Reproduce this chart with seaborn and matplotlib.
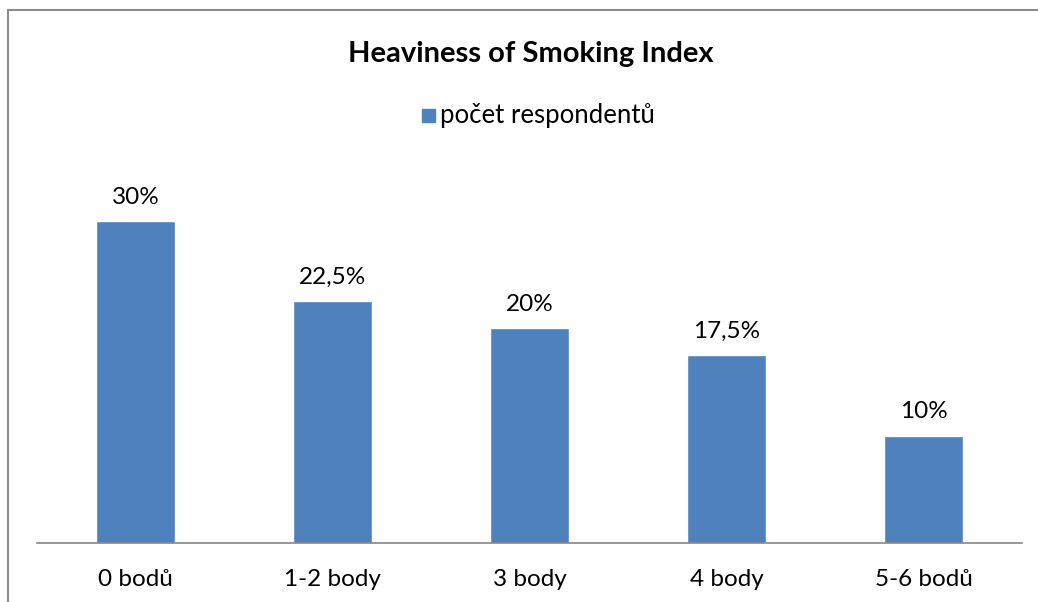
import matplotlib
matplotlib.use("Agg")
import matplotlib.pyplot as plt
import seaborn as sns
import pandas as pd
from matplotlib.lines import Line2D

categories = ["0 bodů", "1-2 body", "3 body", "4 body", "5-6 bodů"]
values = [30, 22.5, 20, 17.5, 10]
value_labels = ["30%", "22,5%", "20%", "17,5%", "10%"]
series_name = "počet respondentů"
title = "Heaviness of Smoking Index"

sns.set_theme(style="white")
plt.rcParams['font.family'] = ['Lato', 'DejaVu Sans']

W, H = 1038, 602
fig = plt.figure(figsize=(W / 100, H / 100), dpi=100)
ax = fig.add_axes([37 / W, (H - 543) / H, 985 / W, 376 / H])

df = pd.DataFrame({"cat": categories, "val": values})
color = "#4F81BD"
sns.barplot(data=df, x="cat", y="val", color=color, width=0.4, ax=ax, saturation=1)

ax.set_ylim(0, 35)
ax.set_xlim(-0.5, len(categories) - 0.5)
ax.set_xlabel("")
ax.set_ylabel("")
ax.set_yticks([])
for s in ["top", "right", "left"]:
    ax.spines[s].set_visible(False)
ax.spines["bottom"].set_color("#868686")
ax.spines["bottom"].set_linewidth(1.2)
ax.tick_params(axis="x", length=0, pad=19, labelsize=17.5, colors="#000000")

for i, (v, lab) in enumerate(zip(values, value_labels)):
    ax.annotate(lab, (i, v), xytext=(0, 17), textcoords="offset points",
                ha="center", va="center", fontsize=17.5, color="#000000")

fig.text(531 / W, 1 - 54 / H, title, ha="center", va="center",
         fontsize=21, fontweight="bold", color="#000000")

# legend
fig.patches.append(plt.Rectangle((422 / W, 1 - 122 / H), 13 / W, 13 / H,
                                 transform=fig.transFigure, color=color))
fig.text(440 / W, 1 - 116 / H, series_name, ha="left", va="center",
         fontsize=18.5, color="#000000")

# chart border
fig.lines.append(Line2D([8 / W, 8 / W], [0, 1 - 10 / H], transform=fig.transFigure,
                        color="#8c8c8c", linewidth=1.5))
fig.lines.append(Line2D([8 / W, 1], [1 - 10 / H, 1 - 10 / H], transform=fig.transFigure,
                        color="#8c8c8c", linewidth=1.5))

fig.savefig("out.png", dpi=100, facecolor="white")
